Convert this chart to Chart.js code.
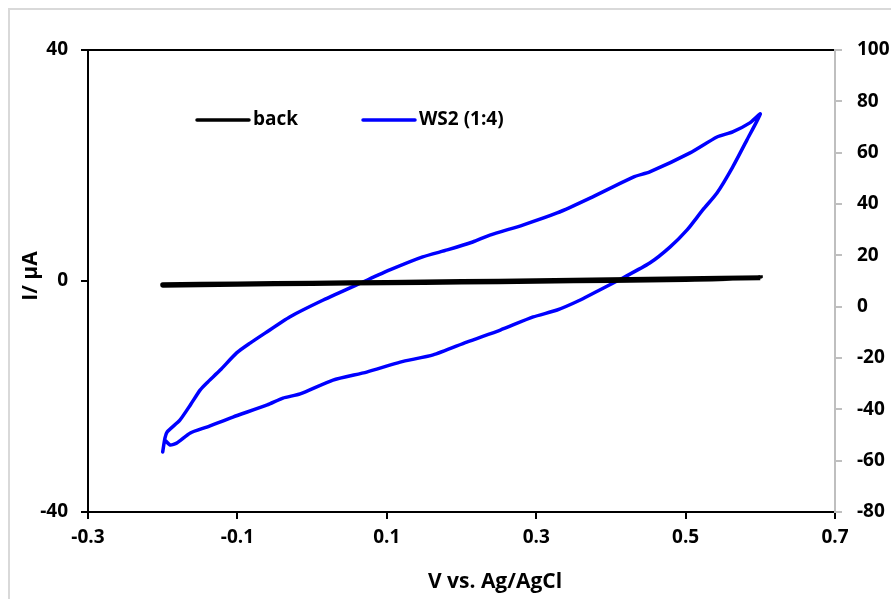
<!DOCTYPE html>
<html>
<head>
<meta charset="utf-8">
<script src="https://cdn.jsdelivr.net/npm/chart.js@4"></script>
<style>
  body { margin: 0; background: #fff; }
  canvas { display: block; }
</style>
</head>
<body>
<canvas id="cvChart" width="891" height="599"></canvas>
<script>
// background scan (left axis, µA)
const backV = [-0.2, -0.1, 0, 0.1, 0.2, 0.3, 0.4, 0.5, 0.6, 0.5, 0.4, 0.3, 0.2, 0.1, 0, -0.1, -0.2];
const backI = [-0.75, -0.55, -0.42, -0.3, -0.18, -0.05, 0.1, 0.25, 0.55, 0.4, 0.2, 0.05, -0.1, -0.25, -0.38, -0.5, -0.65];

// WS2 (1:4) scan (right axis)
const ws2V = [
    -0.2, -0.197, -0.194, -0.177, -0.163, -0.15, -0.141, -0.123, -0.101, -0.083, -0.063, -0.03, 0.015,
    0.068, 0.104, 0.148, 0.181, 0.215, 0.238, 0.282, 0.328, 0.372, 0.43, 0.452, 0.506, 0.542, 0.563, 0.586, 0.6,
    0.582, 0.563, 0.542, 0.523, 0.502, 0.479, 0.452, 0.416, 0.385, 0.359, 0.328, 0.296, 0.252, 0.207,
    0.162, 0.118, 0.073, 0.028, -0.016, -0.039, -0.06, -0.106, -0.141, -0.163, -0.181, -0.19, -0.196
];
const ws2I = [
    -56.6, -51.2, -48.8, -44.2, -38.3, -32.5, -29.7, -24.7, -18.0, -14.2, -10.3, -4.0, 2.6,
    9.6, 14.3, 19.4, 22.1, 25.2, 27.9, 31.8, 36.5, 42.3, 50.5, 52.5, 59.9, 66.1, 68.1, 71.6, 75.1,
    64.9, 54.4, 44.3, 37.7, 29.9, 23.2, 17.0, 11.2, 6.5, 2.6, -1.3, -4.0, -9.1, -13.8,
    -18.8, -21.6, -25.5, -28.6, -34.0, -35.6, -38.3, -43.0, -46.9, -49.2, -53.1, -53.9, -52.3
];

const xTicks = [-0.3, -0.1, 0.1, 0.3, 0.5, 0.7];
const leftTicks = [-40, 0, 40];
const rightTicks = [-80, -60, -40, -20, 0, 20, 40, 60, 80, 100];

const xTitle = 'V vs. Ag/AgCl';
const yTitle = 'I/ µA';

const FONT = '"Open Sans", "Liberation Sans", sans-serif';

const toPoints = (xs, ys) => xs.map((x, i) => ({ x: x, y: ys[i] }));

// frame, top border, legend and axis titles
const decor = {
    id: 'decor',
    beforeDraw(chart) {
        const c = chart.ctx;
        c.save();
        c.fillStyle = '#fff';
        c.fillRect(0, 0, chart.width, chart.height);
        c.strokeStyle = '#d9d9d9';
        c.lineWidth = 2;
        c.strokeRect(9, 9, chart.width + 20, chart.height + 20);
        c.restore();
    },
    afterDraw(chart) {
        const c = chart.ctx;
        const a = chart.chartArea;
        c.save();
        c.strokeStyle = '#000';
        c.lineWidth = 2;
        c.beginPath();
        c.moveTo(a.left, a.top);
        c.lineTo(a.right - 1, a.top);
        c.stroke();

        // legend
        const items = [
            { x: 197, ds: chart.data.datasets[0] },
            { x: 363, ds: chart.data.datasets[1] }
        ];
        c.font = 'bold 19px ' + FONT;
        c.textBaseline = 'middle';
        c.fillStyle = '#000';
        items.forEach(it => {
            c.strokeStyle = it.ds.borderColor;
            c.lineWidth = 3.5;
            c.lineCap = 'round';
            c.beginPath();
            c.moveTo(it.x, 120);
            c.lineTo(it.x + 52, 120);
            c.stroke();
            c.fillText(it.ds.label, it.x + 56, 120);
        });

        // axis titles
        c.font = 'bold 21px ' + FONT;
        c.textAlign = 'center';
        c.textBaseline = 'middle';
        c.fillText(xTitle, 495, 582);
        c.translate(31, 276);
        c.rotate(-Math.PI / 2);
        c.fillText(yTitle, 0, 0);
        c.restore();
    }
};

const tickFont = { family: FONT, size: 19, weight: 'bold' };

const ctx = document.getElementById('cvChart').getContext('2d');
new Chart(ctx, {
    type: 'scatter',
    data: {
        datasets: [
            {
                label: 'back',
                data: toPoints(backV, backI),
                yAxisID: 'y',
                showLine: true,
                borderColor: '#000',
                borderWidth: 5,
                pointRadius: 0,
                tension: 0.2,
                borderCapStyle: 'round'
            },
            {
                label: 'WS2 (1:4)',
                data: toPoints(ws2V, ws2I),
                yAxisID: 'y2',
                showLine: true,
                borderColor: '#0000ff',
                borderWidth: 3.5,
                pointRadius: 0,
                tension: 0.2,
                borderCapStyle: 'round',
                borderJoinStyle: 'round'
            }
        ]
    },
    options: {
        responsive: false,
        animation: false,
        devicePixelRatio: 1,
        layout: { padding: { top: 50 } },
        plugins: {
            legend: { display: false },
            tooltip: { enabled: false }
        },
        scales: {
            x: {
                type: 'linear',
                position: 'bottom',
                min: -0.3,
                max: 0.7,
                afterBuildTicks: s => { s.ticks = xTicks.map(v => ({ value: v })); },
                afterFit: s => { s.height = 87; },
                ticks: {
                    color: '#000',
                    padding: 7,
                    font: tickFont,
                    callback: v => v.toFixed(1)
                },
                grid: { drawOnChartArea: false, tickLength: 7, color: '#000', lineWidth: 2 },
                border: { display: true, color: '#000', width: 2 }
            },
            y: {
                type: 'linear',
                position: 'left',
                min: -40,
                max: 40,
                afterBuildTicks: s => { s.ticks = leftTicks.map(v => ({ value: v })); },
                afterFit: s => { s.width = 88; },
                ticks: {
                    color: '#000',
                    padding: 13,
                    font: tickFont
                },
                grid: { drawOnChartArea: false, tickLength: 7, color: '#000', lineWidth: 2 },
                border: { display: true, color: '#000', width: 2 }
            },
            y2: {
                type: 'linear',
                position: 'right',
                min: -80,
                max: 100,
                afterBuildTicks: s => { s.ticks = rightTicks.map(v => ({ value: v })); },
                afterFit: s => { s.width = 56; },
                ticks: {
                    color: '#000',
                    padding: 15,
                    font: tickFont
                },
                grid: { drawOnChartArea: false, tickLength: 7, color: '#bfbfbf', lineWidth: 2 },
                border: { display: true, color: '#bfbfbf', width: 2 }
            }
        }
    },
    plugins: [decor]
});
</script>
</body>
</html>
